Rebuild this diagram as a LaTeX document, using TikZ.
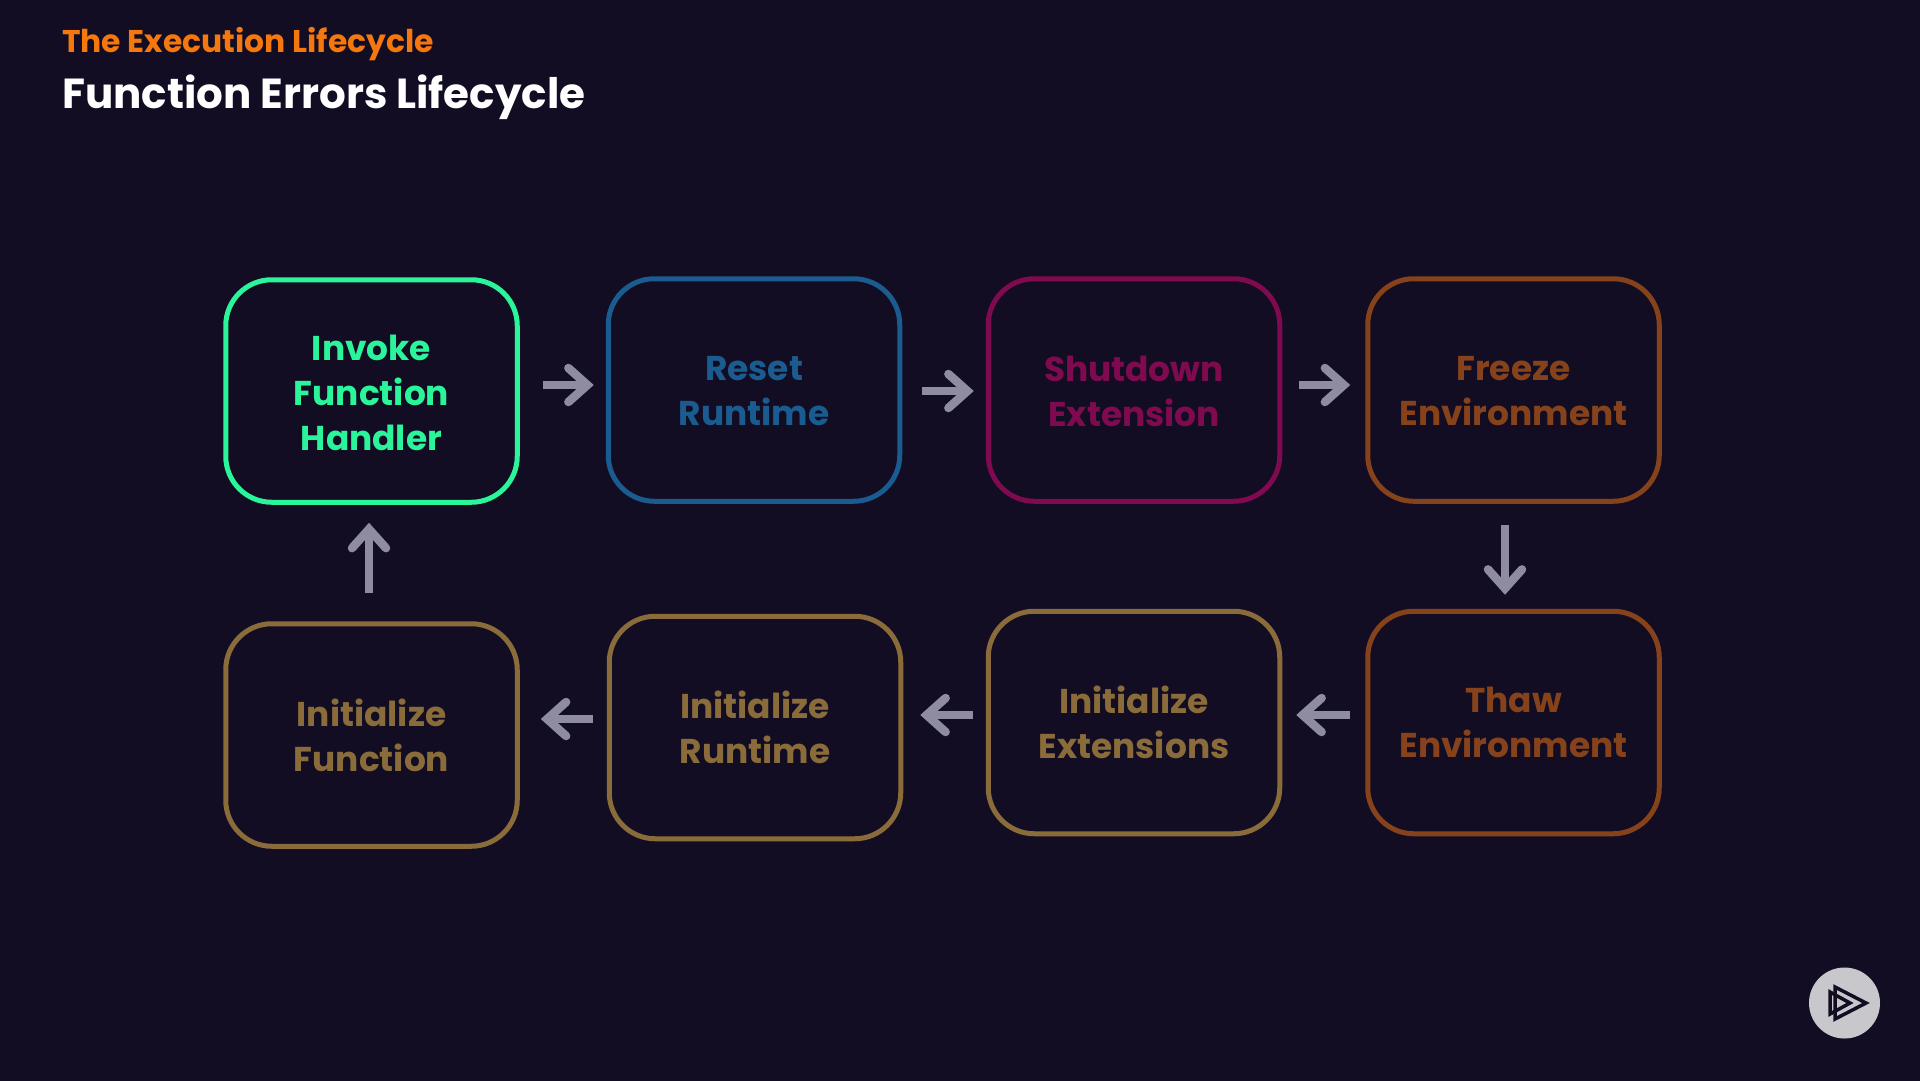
\documentclass[tikz,border=0pt]{standalone}
\usepackage{fontspec}
\setmainfont{Poppins}[UprightFont=* Bold,BoldFont=* Bold]
\usetikzlibrary{arrows.meta}
\definecolor{bgc}{HTML}{130D23}
\definecolor{arrc}{HTML}{8F8BA0}
\definecolor{grn}{HTML}{2BF59A}
\definecolor{blu}{HTML}{1A5C8F}
\definecolor{mag}{HTML}{7F0A4F}
\definecolor{brn}{HTML}{86431B}
\definecolor{gld}{HTML}{8A6B3A}
\definecolor{org}{HTML}{F5780F}
\definecolor{lgo}{HTML}{C8C8CC}
\newcommand{\lowered}[1]{\raisebox{-1.5pt}[\height][\depth]{\parbox{280pt}{\centering #1}}}
\tikzset{
  x=1pt,y=-1pt,
  stagebox/.style={draw=#1,text=#1,line width=5pt,rounded corners=46pt,minimum width=291.5pt,minimum height=222.5pt,inner sep=0pt,align=center,
    font=\fontsize{34.4}{45}\selectfont,anchor=center},
  flow/.style={draw=arrc,line width=8.5pt,-{Straight Barb[length=19pt,width=34pt,line cap=round,line join=miter]}},
}
\begin{document}
\begin{tikzpicture}
\useasboundingbox (0,0) rectangle (1920,1080);
\fill[bgc] (-5,-5) rectangle (1925,1085);
\node[anchor=base west,inner sep=0pt,text=org,font=\fontsize{31.4}{34}\selectfont] (sub) at (62,52) {The Execution Lifecycle};
\node[anchor=base west,inner sep=0pt,text=white,font=\fontsize{42}{46}\selectfont] (ttl) at (62,108) {Function Errors Lifecycle};
\node[stagebox=grn] (n1) at (371.5,391) {\lowered{Invoke\\Function\\Handler}};
\node[stagebox=blu] (n2) at (754,390) {\lowered{Reset\\Runtime}};
\node[stagebox=mag] (n3) at (1134,390) {\lowered{Shutdown\\Extension}};
\node[stagebox=brn] (n4) at (1513.5,390) {\lowered{Freeze\\Environment}};
\node[stagebox=brn] (n5) at (1513.5,722.5) {Thaw\\Environment};
\node[stagebox=gld] (n6) at (1134,722.5) {Initialize\\Extensions};
\node[stagebox=gld] (n7) at (755,727.5) {Initialize\\Runtime};
\node[stagebox=gld] (n8) at (371.5,735) {Initialize\\Function};
\draw[flow] ([shift={(23,-6)}]n1.east) -- ([shift={(-12,-5)}]n2.west);
\draw[flow] ([shift={(20,1)}]n2.east) -- ([shift={(-12,1)}]n3.west);
\draw[flow] ([shift={(17,-5)}]n3.east) -- ([shift={(-15,-5)}]n4.west);
\draw[flow] ([shift={(-8.5,21)}]n4.south) -- ([shift={(-8.5,-14)}]n5.north);
\draw[flow] ([shift={(-15,-7.5)}]n5.west) -- ([shift={(14,-7.5)}]n6.east);
\draw[flow] ([shift={(-13,-7.5)}]n6.west) -- ([shift={(17,-12.5)}]n7.east);
\draw[flow] ([shift={(-14,-8.5)}]n7.west) -- ([shift={(21,-16)}]n8.east);
\draw[flow] ([shift={(-2.5,-28)}]n8.north) -- ([shift={(-2.5,18)}]n1.south);
\node[circle,fill=lgo,minimum size=71pt,inner sep=0pt] (logo) at (1844.5,1003) {};
\draw[bgc,line width=3.5pt,line join=miter] (1835,987) -- (1866,1003) -- (1835,1019) -- cycle;
\draw[bgc,line width=3.5pt,line join=miter] (1850,1003) -- (1830,992) -- (1830,1014) -- cycle;
\end{tikzpicture}
\end{document}
